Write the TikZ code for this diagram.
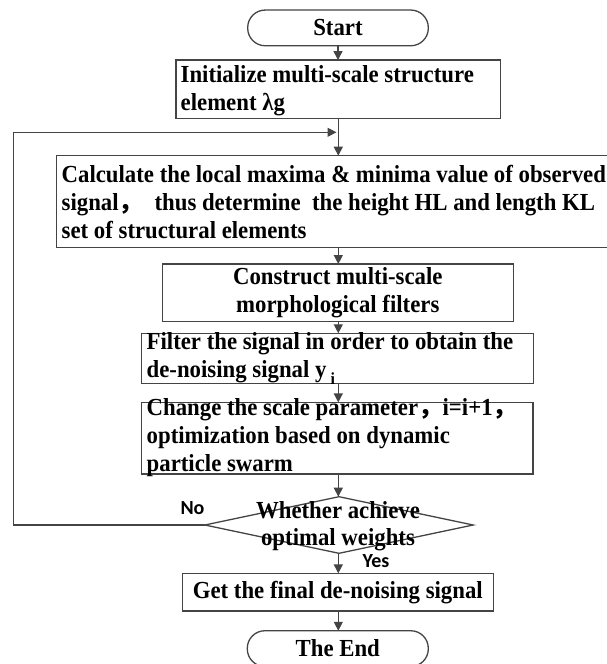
\documentclass[tikz,border=0pt]{standalone}
\usepackage{fontspec}
\setmainfont{Liberation Serif}[FakeStretch=0.93]
\newfontfamily\labelfont{Carlito}
\newfontfamily\cjk{Noto Sans CJK SC}
\usetikzlibrary{shapes.geometric,arrows.meta}
\definecolor{linegray}{HTML}{444444}
\begin{document}
\begin{tikzpicture}[x=1pt,y=-1pt,
  box/.style={draw=linegray, line width=1.3pt, inner sep=0pt, outer sep=0pt,
    font=\bfseries\fontsize{24.5}{28}\selectfont},
  pill/.style={box, rounded corners=17.5pt},
  decision/.style={box, diamond},
  % multi-line texts are anchored at the baseline of their last line
  txt/.style={inner sep=0pt, outer sep=0pt, align=left, anchor=base west,
    font=\bfseries\fontsize{24.5}{28}\selectfont},
  ctxt/.style={txt, align=center, anchor=base, font=\bfseries\fontsize{24.5}{27}\selectfont},
  tag/.style={inner sep=0pt, font=\labelfont\bfseries\fontsize{20}{24}\selectfont},
  arr/.style={draw=linegray, line width=1.3pt, -{Triangle[length=9pt,width=9pt]}}]
\useasboundingbox (0,0) rectangle (607,664);

% process blocks
\node[pill, minimum width=180.6pt, minimum height=35.7pt] (start) at (338,27.9) {Start};
\node[box, minimum width=324.6pt, minimum height=58.3pt] (init) at (338.3,89.2) {};
\node[box, minimum width=555.3pt, minimum height=92pt] (calc) at (334.4,201.7) {};
\node[box, align=center, minimum width=351pt, minimum height=57.7pt] (cons) at (337.8,292.9)
  {Construct multi-scale\\morphological filters};
\node[box, minimum width=391.6pt, minimum height=50pt] (filt) at (337.5,358.3) {};
\node[box, minimum width=391.3pt, minimum height=71.7pt] (chg) at (337.4,438.2) {};
\node[decision, minimum width=268.3pt, minimum height=56.6pt] (dec) at (339,525) {};
\node[box, minimum width=311pt, minimum height=37.7pt] (get) at (337.8,592.2)
  {Get the final de-noising signal};
\node[pill, minimum width=181pt, minimum height=35.7pt] (end) at (337.8,648.6) {The End};

% block texts
\node[txt] (initT) at (180.7,110) {Initialize multi-scale structure\\element λg};
\node[txt] (calcT) at (61.7,238)
  {Calculate the local maxima \& minima value of observed\\
   signal{\cjk，}\ \ thus determine\ \ the height HL and length KL\\
   set of structural elements};
\node[txt] (filtT) at (146.7,377)
  {Filter the signal in order to obtain the\\
   de-noising signal y\,\raisebox{-7pt}{\fontsize{17}{17}\selectfont i}};
\node[txt] (chgT) at (146.7,471.7)
  {Change the scale parameter{\cjk，}i=i+1{\cjk，}\\
   optimization based on dynamic\\particle swarm};
\node[ctxt] (decT) at (338,545) {Whether achieve\\optimal weights};

% branch labels
\node[tag] (no) at (192.5,508.5) {No};
\node[tag] (yes) at (376,561.5) {Yes};

% connectors
\coordinate (join) at (338,132.3);
\coordinate (loopcorner) at (13.3,525);
\draw[arr] (start.south) -- (start.south |- init.north);
\draw[arr] (init.south) -- (init.south |- calc.north);
\draw[arr] (calc.south -| init.south) -- (init.south |- cons.north);
\draw[arr] (cons.south -| init.south) -- (init.south |- filt.north);
\draw[arr] (filt.south -| init.south) -- (init.south |- chg.north);
\draw[arr] (chg.south -| init.south) -- (init.south |- dec.north);
\draw[arr] (dec.south -| init.south) -- (init.south |- get.north);
\draw[arr] (get.south -| init.south) -- (init.south |- end.north);
\draw[arr, shorten >=1.5pt] (dec.west) -- (loopcorner) |- (join);
\end{tikzpicture}
\end{document}
